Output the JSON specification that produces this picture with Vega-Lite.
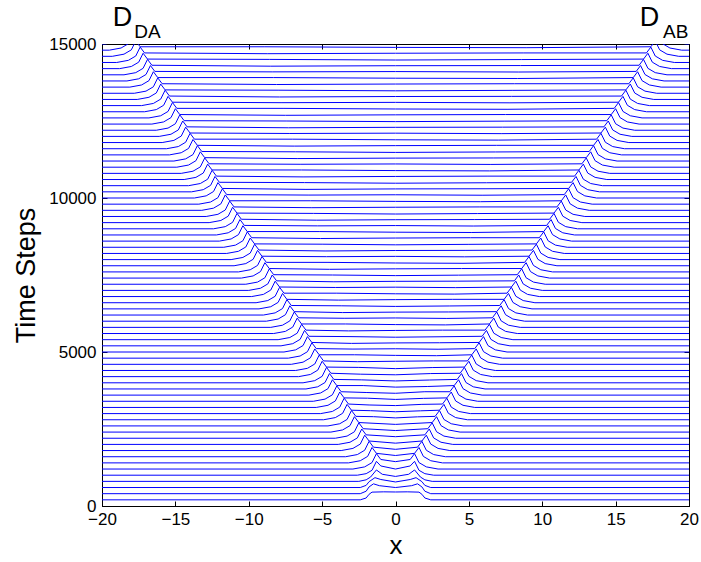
{
"$schema":"https://vega.github.io/schema/vega-lite/v6.json",
"width":587,"height":462,
"autosize":{"type":"none"},
"padding":{"left":102,"top":44,"right":12,"bottom":56},
"background":"white",
"config":{"view":{"stroke":"black","strokeWidth":1},"font":"Liberation Sans","axis":{"labelFont":"Liberation Sans","titleFont":"Liberation Sans","labelColor":"black","titleColor":"black","domainColor":"black","tickColor":"black","grid":false,"labelFlush":false,"labelOverlap":false,"titleFontWeight":"normal"}},
"datasets":{
"letters":[{"lab":"D","x":-18.6,"y":15600},{"lab":"D","x":17.3,"y":15600}],
"subs":[{"lab":"DA","x":-16.9,"y":15200},{"lab":"AB","x":19.1,"y":15200}],
"traces":[
{"t":0,"x":-20,"y":200},{"t":0,"x":-2.4,"y":200},{"t":0,"x":-2.0,"y":260},{"t":0,"x":-1.8,"y":380},{"t":0,"x":-1.6,"y":450},{"t":0,"x":-0.8,"y":460},{"t":0,"x":0,"y":455},{"t":0,"x":0.8,"y":460},{"t":0,"x":1.6,"y":450},{"t":0,"x":1.8,"y":380},{"t":0,"x":2.0,"y":260},{"t":0,"x":2.4,"y":200},{"t":0,"x":20,"y":200},
{"t":200,"x":-20,"y":400},{"t":200,"x":-2.4,"y":400},{"t":200,"x":-2.0,"y":480},{"t":200,"x":-1.8,"y":620},{"t":200,"x":-1.5,"y":720},{"t":200,"x":-1.1,"y":660},{"t":200,"x":0,"y":600},{"t":200,"x":1.1,"y":660},{"t":200,"x":1.5,"y":720},{"t":200,"x":1.8,"y":620},{"t":200,"x":2.0,"y":480},{"t":200,"x":2.4,"y":400},{"t":200,"x":20,"y":400},
{"t":400,"x":-20,"y":600},{"t":400,"x":-2.4,"y":600},{"t":400,"x":-2.0,"y":670},{"t":400,"x":-1.8,"y":790},{"t":400,"x":-1.4,"y":920},{"t":400,"x":-1.0,"y":860},{"t":400,"x":0,"y":780},{"t":400,"x":1.0,"y":860},{"t":400,"x":1.4,"y":920},{"t":400,"x":1.8,"y":790},{"t":400,"x":2.0,"y":670},{"t":400,"x":2.4,"y":600},{"t":400,"x":20,"y":600},
{"t":600,"x":-20,"y":800},{"t":600,"x":-2.5,"y":800},{"t":600,"x":-2.0,"y":850},{"t":600,"x":-1.7,"y":940},{"t":600,"x":-1.3,"y":1170},{"t":600,"x":-0.9,"y":1030},{"t":600,"x":0,"y":960},{"t":600,"x":0.9,"y":1030},{"t":600,"x":1.3,"y":1170},{"t":600,"x":1.7,"y":940},{"t":600,"x":2.0,"y":850},{"t":600,"x":2.5,"y":800},{"t":600,"x":20,"y":800},
{"t":800,"x":-20,"y":1000},{"t":800,"x":-2.6,"y":1000},{"t":800,"x":-2.0,"y":1050},{"t":800,"x":-1.6,"y":1160},{"t":800,"x":-1.3,"y":1450},{"t":800,"x":-1.0,"y":1300},{"t":800,"x":0,"y":1200},{"t":800,"x":1.0,"y":1300},{"t":800,"x":1.3,"y":1450},{"t":800,"x":1.6,"y":1160},{"t":800,"x":2.0,"y":1050},{"t":800,"x":2.6,"y":1000},{"t":800,"x":20,"y":1000},
{"t":1000,"x":-20,"y":1200},{"t":1000,"x":-2.9,"y":1200},{"t":1000,"x":-2.1,"y":1270},{"t":1000,"x":-1.6,"y":1410},{"t":1000,"x":-1.3,"y":1700},{"t":1000,"x":-1.0,"y":1510},{"t":1000,"x":0,"y":1440},{"t":1000,"x":1.0,"y":1510},{"t":1000,"x":1.3,"y":1700},{"t":1000,"x":1.6,"y":1410},{"t":1000,"x":2.1,"y":1270},{"t":1000,"x":2.9,"y":1200},{"t":1000,"x":20,"y":1200},
{"t":1200,"x":-20,"y":1400},{"t":1200,"x":-3.2,"y":1400},{"t":1200,"x":-2.4,"y":1470},{"t":1200,"x":-1.9,"y":1610},{"t":1200,"x":-1.6,"y":1900},{"t":1200,"x":-1.3,"y":1710},{"t":1200,"x":0,"y":1640},{"t":1200,"x":1.3,"y":1710},{"t":1200,"x":1.6,"y":1900},{"t":1200,"x":1.9,"y":1610},{"t":1200,"x":2.4,"y":1470},{"t":1200,"x":3.2,"y":1400},{"t":1200,"x":20,"y":1400},
{"t":1400,"x":-20,"y":1600},{"t":1400,"x":-3.4,"y":1600},{"t":1400,"x":-2.6,"y":1670},{"t":1400,"x":-2.1,"y":1810},{"t":1400,"x":-1.8,"y":2100},{"t":1400,"x":-1.5,"y":1910},{"t":1400,"x":0,"y":1840},{"t":1400,"x":1.5,"y":1910},{"t":1400,"x":1.8,"y":2100},{"t":1400,"x":2.1,"y":1810},{"t":1400,"x":2.6,"y":1670},{"t":1400,"x":3.4,"y":1600},{"t":1400,"x":20,"y":1600},
{"t":1600,"x":-20,"y":1800},{"t":1600,"x":-3.7,"y":1800},{"t":1600,"x":-2.9,"y":1870},{"t":1600,"x":-2.4,"y":2010},{"t":1600,"x":-2.1,"y":2300},{"t":1600,"x":-1.8,"y":2110},{"t":1600,"x":0,"y":2040},{"t":1600,"x":1.8,"y":2110},{"t":1600,"x":2.1,"y":2300},{"t":1600,"x":2.4,"y":2010},{"t":1600,"x":2.9,"y":1870},{"t":1600,"x":3.7,"y":1800},{"t":1600,"x":20,"y":1800},
{"t":1800,"x":-20,"y":2000},{"t":1800,"x":-3.9,"y":2000},{"t":1800,"x":-3.1,"y":2070},{"t":1800,"x":-2.6,"y":2210},{"t":1800,"x":-2.3,"y":2500},{"t":1800,"x":-2.0,"y":2310},{"t":1800,"x":0,"y":2250},{"t":1800,"x":2.0,"y":2310},{"t":1800,"x":2.3,"y":2500},{"t":1800,"x":2.6,"y":2210},{"t":1800,"x":3.1,"y":2070},{"t":1800,"x":3.9,"y":2000},{"t":1800,"x":20,"y":2000},
{"t":2000,"x":-20,"y":2200},{"t":2000,"x":-4.1,"y":2200},{"t":2000,"x":-3.3,"y":2270},{"t":2000,"x":-2.8,"y":2410},{"t":2000,"x":-2.5,"y":2700},{"t":2000,"x":-2.2,"y":2510},{"t":2000,"x":0,"y":2450},{"t":2000,"x":2.2,"y":2510},{"t":2000,"x":2.5,"y":2700},{"t":2000,"x":2.8,"y":2410},{"t":2000,"x":3.3,"y":2270},{"t":2000,"x":4.1,"y":2200},{"t":2000,"x":20,"y":2200},
{"t":2200,"x":-20,"y":2400},{"t":2200,"x":-4.4,"y":2400},{"t":2200,"x":-3.6,"y":2470},{"t":2200,"x":-3.1,"y":2610},{"t":2200,"x":-2.8,"y":2900},{"t":2200,"x":-2.5,"y":2710},{"t":2200,"x":0,"y":2650},{"t":2200,"x":2.5,"y":2710},{"t":2200,"x":2.8,"y":2900},{"t":2200,"x":3.1,"y":2610},{"t":2200,"x":3.6,"y":2470},{"t":2200,"x":4.4,"y":2400},{"t":2200,"x":20,"y":2400},
{"t":2400,"x":-20,"y":2600},{"t":2400,"x":-4.6,"y":2600},{"t":2400,"x":-3.8,"y":2670},{"t":2400,"x":-3.3,"y":2810},{"t":2400,"x":-3.0,"y":3100},{"t":2400,"x":-2.7,"y":2910},{"t":2400,"x":-1.5,"y":2900},{"t":2400,"x":0,"y":2860},{"t":2400,"x":1.5,"y":2895},{"t":2400,"x":2.7,"y":2910},{"t":2400,"x":3.0,"y":3100},{"t":2400,"x":3.3,"y":2810},{"t":2400,"x":3.8,"y":2670},{"t":2400,"x":4.6,"y":2600},{"t":2400,"x":20,"y":2600},
{"t":2600,"x":-20,"y":2800},{"t":2600,"x":-4.9,"y":2800},{"t":2600,"x":-4.1,"y":2870},{"t":2600,"x":-3.6,"y":3010},{"t":2600,"x":-3.3,"y":3300},{"t":2600,"x":-3.0,"y":3110},{"t":2600,"x":-1.7,"y":3095},{"t":2600,"x":0,"y":3060},{"t":2600,"x":1.7,"y":3090},{"t":2600,"x":3.0,"y":3110},{"t":2600,"x":3.3,"y":3300},{"t":2600,"x":3.6,"y":3010},{"t":2600,"x":4.1,"y":2870},{"t":2600,"x":4.9,"y":2800},{"t":2600,"x":20,"y":2800},
{"t":2800,"x":-20,"y":3000},{"t":2800,"x":-5.1,"y":3000},{"t":2800,"x":-4.3,"y":3070},{"t":2800,"x":-3.8,"y":3210},{"t":2800,"x":-3.5,"y":3500},{"t":2800,"x":-3.2,"y":3310},{"t":2800,"x":-1.8,"y":3280},{"t":2800,"x":0,"y":3260},{"t":2800,"x":1.8,"y":3300},{"t":2800,"x":3.2,"y":3310},{"t":2800,"x":3.5,"y":3500},{"t":2800,"x":3.8,"y":3210},{"t":2800,"x":4.3,"y":3070},{"t":2800,"x":5.1,"y":3000},{"t":2800,"x":20,"y":3000},
{"t":3000,"x":-20,"y":3200},{"t":3000,"x":-5.4,"y":3200},{"t":3000,"x":-4.6,"y":3270},{"t":3000,"x":-4.1,"y":3410},{"t":3000,"x":-3.8,"y":3700},{"t":3000,"x":-3.5,"y":3510},{"t":3000,"x":-1.9,"y":3500},{"t":3000,"x":0,"y":3460},{"t":3000,"x":1.9,"y":3495},{"t":3000,"x":3.5,"y":3510},{"t":3000,"x":3.8,"y":3700},{"t":3000,"x":4.1,"y":3410},{"t":3000,"x":4.6,"y":3270},{"t":3000,"x":5.4,"y":3200},{"t":3000,"x":20,"y":3200},
{"t":3200,"x":-20,"y":3400},{"t":3200,"x":-5.6,"y":3400},{"t":3200,"x":-4.8,"y":3470},{"t":3200,"x":-4.3,"y":3610},{"t":3200,"x":-4.0,"y":3900},{"t":3200,"x":-3.7,"y":3710},{"t":3200,"x":-2.0,"y":3685},{"t":3200,"x":0,"y":3660},{"t":3200,"x":2.0,"y":3710},{"t":3200,"x":3.7,"y":3710},{"t":3200,"x":4.0,"y":3900},{"t":3200,"x":4.3,"y":3610},{"t":3200,"x":4.8,"y":3470},{"t":3200,"x":5.6,"y":3400},{"t":3200,"x":20,"y":3400},
{"t":3400,"x":-20,"y":3600},{"t":3400,"x":-5.9,"y":3600},{"t":3400,"x":-5.1,"y":3670},{"t":3400,"x":-4.6,"y":3810},{"t":3400,"x":-4.3,"y":4100},{"t":3400,"x":-4.0,"y":3910},{"t":3400,"x":-2.2,"y":3910},{"t":3400,"x":0,"y":3860},{"t":3400,"x":2.2,"y":3880},{"t":3400,"x":4.0,"y":3910},{"t":3400,"x":4.3,"y":4100},{"t":3400,"x":4.6,"y":3810},{"t":3400,"x":5.1,"y":3670},{"t":3400,"x":5.9,"y":3600},{"t":3400,"x":20,"y":3600},
{"t":3600,"x":-20,"y":3800},{"t":3600,"x":-6.1,"y":3800},{"t":3600,"x":-5.3,"y":3870},{"t":3600,"x":-4.8,"y":4010},{"t":3600,"x":-4.5,"y":4300},{"t":3600,"x":-4.2,"y":4110},{"t":3600,"x":-2.3,"y":4095},{"t":3600,"x":0,"y":4060},{"t":3600,"x":2.3,"y":4090},{"t":3600,"x":4.2,"y":4110},{"t":3600,"x":4.5,"y":4300},{"t":3600,"x":4.8,"y":4010},{"t":3600,"x":5.3,"y":3870},{"t":3600,"x":6.1,"y":3800},{"t":3600,"x":20,"y":3800},
{"t":3800,"x":-20,"y":4000},{"t":3800,"x":-6.3,"y":4000},{"t":3800,"x":-5.5,"y":4070},{"t":3800,"x":-5.0,"y":4210},{"t":3800,"x":-4.7,"y":4500},{"t":3800,"x":-4.4,"y":4310},{"t":3800,"x":-2.4,"y":4280},{"t":3800,"x":0,"y":4260},{"t":3800,"x":2.4,"y":4300},{"t":3800,"x":4.4,"y":4310},{"t":3800,"x":4.7,"y":4500},{"t":3800,"x":5.0,"y":4210},{"t":3800,"x":5.5,"y":4070},{"t":3800,"x":6.3,"y":4000},{"t":3800,"x":20,"y":4000},
{"t":4000,"x":-20,"y":4200},{"t":4000,"x":-6.6,"y":4200},{"t":4000,"x":-5.8,"y":4270},{"t":4000,"x":-5.3,"y":4410},{"t":4000,"x":-5.0,"y":4700},{"t":4000,"x":-4.7,"y":4510},{"t":4000,"x":-2.5,"y":4500},{"t":4000,"x":0,"y":4460},{"t":4000,"x":2.5,"y":4495},{"t":4000,"x":4.7,"y":4510},{"t":4000,"x":5.0,"y":4700},{"t":4000,"x":5.3,"y":4410},{"t":4000,"x":5.8,"y":4270},{"t":4000,"x":6.6,"y":4200},{"t":4000,"x":20,"y":4200},
{"t":4200,"x":-20,"y":4400},{"t":4200,"x":-6.8,"y":4400},{"t":4200,"x":-6.0,"y":4470},{"t":4200,"x":-5.5,"y":4610},{"t":4200,"x":-5.2,"y":4900},{"t":4200,"x":-4.9,"y":4710},{"t":4200,"x":-2.6,"y":4685},{"t":4200,"x":0,"y":4700},{"t":4200,"x":2.6,"y":4710},{"t":4200,"x":4.9,"y":4710},{"t":4200,"x":5.2,"y":4900},{"t":4200,"x":5.5,"y":4610},{"t":4200,"x":6.0,"y":4470},{"t":4200,"x":6.8,"y":4400},{"t":4200,"x":20,"y":4400},
{"t":4400,"x":-20,"y":4600},{"t":4400,"x":-7.1,"y":4600},{"t":4400,"x":-6.3,"y":4670},{"t":4400,"x":-5.8,"y":4810},{"t":4400,"x":-5.5,"y":5100},{"t":4400,"x":-5.2,"y":4910},{"t":4400,"x":-2.8,"y":4910},{"t":4400,"x":0,"y":4890},{"t":4400,"x":2.8,"y":4880},{"t":4400,"x":5.2,"y":4910},{"t":4400,"x":5.5,"y":5100},{"t":4400,"x":5.8,"y":4810},{"t":4400,"x":6.3,"y":4670},{"t":4400,"x":7.1,"y":4600},{"t":4400,"x":20,"y":4600},
{"t":4600,"x":-20,"y":4800},{"t":4600,"x":-7.3,"y":4800},{"t":4600,"x":-6.5,"y":4870},{"t":4600,"x":-6.0,"y":5010},{"t":4600,"x":-5.7,"y":5300},{"t":4600,"x":-5.4,"y":5110},{"t":4600,"x":-2.9,"y":5095},{"t":4600,"x":0,"y":5105},{"t":4600,"x":2.9,"y":5090},{"t":4600,"x":5.4,"y":5110},{"t":4600,"x":5.7,"y":5300},{"t":4600,"x":6.0,"y":5010},{"t":4600,"x":6.5,"y":4870},{"t":4600,"x":7.3,"y":4800},{"t":4600,"x":20,"y":4800},
{"t":4800,"x":-20,"y":5000},{"t":4800,"x":-7.6,"y":5000},{"t":4800,"x":-6.8,"y":5070},{"t":4800,"x":-6.3,"y":5210},{"t":4800,"x":-6.0,"y":5500},{"t":4800,"x":-5.7,"y":5310},{"t":4800,"x":-3.0,"y":5280},{"t":4800,"x":0,"y":5295},{"t":4800,"x":3.0,"y":5300},{"t":4800,"x":5.7,"y":5310},{"t":4800,"x":6.0,"y":5500},{"t":4800,"x":6.3,"y":5210},{"t":4800,"x":6.8,"y":5070},{"t":4800,"x":7.6,"y":5000},{"t":4800,"x":20,"y":5000},
{"t":5000,"x":-20,"y":5200},{"t":5000,"x":-7.8,"y":5200},{"t":5000,"x":-7.0,"y":5270},{"t":5000,"x":-6.5,"y":5410},{"t":5000,"x":-6.2,"y":5700},{"t":5000,"x":-5.9,"y":5510},{"t":5000,"x":-3.1,"y":5500},{"t":5000,"x":0,"y":5480},{"t":5000,"x":3.1,"y":5495},{"t":5000,"x":5.9,"y":5510},{"t":5000,"x":6.2,"y":5700},{"t":5000,"x":6.5,"y":5410},{"t":5000,"x":7.0,"y":5270},{"t":5000,"x":7.8,"y":5200},{"t":5000,"x":20,"y":5200},
{"t":5200,"x":-20,"y":5400},{"t":5200,"x":-8.0,"y":5400},{"t":5200,"x":-7.2,"y":5470},{"t":5200,"x":-6.7,"y":5610},{"t":5200,"x":-6.4,"y":5900},{"t":5200,"x":-6.1,"y":5710},{"t":5200,"x":-3.2,"y":5685},{"t":5200,"x":0,"y":5700},{"t":5200,"x":3.2,"y":5710},{"t":5200,"x":6.1,"y":5710},{"t":5200,"x":6.4,"y":5900},{"t":5200,"x":6.7,"y":5610},{"t":5200,"x":7.2,"y":5470},{"t":5200,"x":8.0,"y":5400},{"t":5200,"x":20,"y":5400},
{"t":5400,"x":-20,"y":5600},{"t":5400,"x":-8.3,"y":5600},{"t":5400,"x":-7.5,"y":5670},{"t":5400,"x":-7.0,"y":5810},{"t":5400,"x":-6.7,"y":6100},{"t":5400,"x":-6.4,"y":5910},{"t":5400,"x":-3.4,"y":5910},{"t":5400,"x":0,"y":5890},{"t":5400,"x":3.4,"y":5880},{"t":5400,"x":6.4,"y":5910},{"t":5400,"x":6.7,"y":6100},{"t":5400,"x":7.0,"y":5810},{"t":5400,"x":7.5,"y":5670},{"t":5400,"x":8.3,"y":5600},{"t":5400,"x":20,"y":5600},
{"t":5600,"x":-20,"y":5800},{"t":5600,"x":-8.5,"y":5800},{"t":5600,"x":-7.7,"y":5870},{"t":5600,"x":-7.2,"y":6010},{"t":5600,"x":-6.9,"y":6300},{"t":5600,"x":-6.6,"y":6110},{"t":5600,"x":-3.5,"y":6095},{"t":5600,"x":0,"y":6105},{"t":5600,"x":3.5,"y":6090},{"t":5600,"x":6.6,"y":6110},{"t":5600,"x":6.9,"y":6300},{"t":5600,"x":7.2,"y":6010},{"t":5600,"x":7.7,"y":5870},{"t":5600,"x":8.5,"y":5800},{"t":5600,"x":20,"y":5800},
{"t":5800,"x":-20,"y":6000},{"t":5800,"x":-8.8,"y":6000},{"t":5800,"x":-8.0,"y":6070},{"t":5800,"x":-7.5,"y":6210},{"t":5800,"x":-7.2,"y":6500},{"t":5800,"x":-6.9,"y":6310},{"t":5800,"x":-3.6,"y":6280},{"t":5800,"x":0,"y":6295},{"t":5800,"x":3.6,"y":6300},{"t":5800,"x":6.9,"y":6310},{"t":5800,"x":7.2,"y":6500},{"t":5800,"x":7.5,"y":6210},{"t":5800,"x":8.0,"y":6070},{"t":5800,"x":8.8,"y":6000},{"t":5800,"x":20,"y":6000},
{"t":6000,"x":-20,"y":6200},{"t":6000,"x":-9.0,"y":6200},{"t":6000,"x":-8.2,"y":6270},{"t":6000,"x":-7.7,"y":6410},{"t":6000,"x":-7.4,"y":6700},{"t":6000,"x":-7.1,"y":6510},{"t":6000,"x":-3.7,"y":6500},{"t":6000,"x":0,"y":6480},{"t":6000,"x":3.7,"y":6495},{"t":6000,"x":7.1,"y":6510},{"t":6000,"x":7.4,"y":6700},{"t":6000,"x":7.7,"y":6410},{"t":6000,"x":8.2,"y":6270},{"t":6000,"x":9.0,"y":6200},{"t":6000,"x":20,"y":6200},
{"t":6200,"x":-20,"y":6400},{"t":6200,"x":-9.3,"y":6400},{"t":6200,"x":-8.5,"y":6470},{"t":6200,"x":-8.0,"y":6610},{"t":6200,"x":-7.7,"y":6900},{"t":6200,"x":-7.4,"y":6710},{"t":6200,"x":-3.9,"y":6685},{"t":6200,"x":0,"y":6700},{"t":6200,"x":3.9,"y":6710},{"t":6200,"x":7.4,"y":6710},{"t":6200,"x":7.7,"y":6900},{"t":6200,"x":8.0,"y":6610},{"t":6200,"x":8.5,"y":6470},{"t":6200,"x":9.3,"y":6400},{"t":6200,"x":20,"y":6400},
{"t":6400,"x":-20,"y":6600},{"t":6400,"x":-9.5,"y":6600},{"t":6400,"x":-8.7,"y":6670},{"t":6400,"x":-8.2,"y":6810},{"t":6400,"x":-7.9,"y":7100},{"t":6400,"x":-7.6,"y":6910},{"t":6400,"x":-4.0,"y":6910},{"t":6400,"x":0,"y":6890},{"t":6400,"x":4.0,"y":6880},{"t":6400,"x":7.6,"y":6910},{"t":6400,"x":7.9,"y":7100},{"t":6400,"x":8.2,"y":6810},{"t":6400,"x":8.7,"y":6670},{"t":6400,"x":9.5,"y":6600},{"t":6400,"x":20,"y":6600},
{"t":6600,"x":-20,"y":6800},{"t":6600,"x":-9.8,"y":6800},{"t":6600,"x":-9.0,"y":6870},{"t":6600,"x":-8.5,"y":7010},{"t":6600,"x":-8.2,"y":7300},{"t":6600,"x":-7.9,"y":7110},{"t":6600,"x":-4.1,"y":7095},{"t":6600,"x":0,"y":7105},{"t":6600,"x":4.1,"y":7090},{"t":6600,"x":7.9,"y":7110},{"t":6600,"x":8.2,"y":7300},{"t":6600,"x":8.5,"y":7010},{"t":6600,"x":9.0,"y":6870},{"t":6600,"x":9.8,"y":6800},{"t":6600,"x":20,"y":6800},
{"t":6800,"x":-20,"y":7000},{"t":6800,"x":-10.0,"y":7000},{"t":6800,"x":-9.2,"y":7070},{"t":6800,"x":-8.7,"y":7210},{"t":6800,"x":-8.4,"y":7500},{"t":6800,"x":-8.1,"y":7310},{"t":6800,"x":-4.2,"y":7280},{"t":6800,"x":0,"y":7295},{"t":6800,"x":4.2,"y":7300},{"t":6800,"x":8.1,"y":7310},{"t":6800,"x":8.4,"y":7500},{"t":6800,"x":8.7,"y":7210},{"t":6800,"x":9.2,"y":7070},{"t":6800,"x":10.0,"y":7000},{"t":6800,"x":20,"y":7000},
{"t":7000,"x":-20,"y":7200},{"t":7000,"x":-10.2,"y":7200},{"t":7000,"x":-9.4,"y":7270},{"t":7000,"x":-8.9,"y":7410},{"t":7000,"x":-8.6,"y":7700},{"t":7000,"x":-8.3,"y":7510},{"t":7000,"x":-4.3,"y":7500},{"t":7000,"x":0,"y":7480},{"t":7000,"x":4.3,"y":7495},{"t":7000,"x":8.3,"y":7510},{"t":7000,"x":8.6,"y":7700},{"t":7000,"x":8.9,"y":7410},{"t":7000,"x":9.4,"y":7270},{"t":7000,"x":10.2,"y":7200},{"t":7000,"x":20,"y":7200},
{"t":7200,"x":-20,"y":7400},{"t":7200,"x":-10.5,"y":7400},{"t":7200,"x":-9.7,"y":7470},{"t":7200,"x":-9.2,"y":7610},{"t":7200,"x":-8.9,"y":7900},{"t":7200,"x":-8.6,"y":7710},{"t":7200,"x":-4.5,"y":7685},{"t":7200,"x":0,"y":7700},{"t":7200,"x":4.5,"y":7710},{"t":7200,"x":8.6,"y":7710},{"t":7200,"x":8.9,"y":7900},{"t":7200,"x":9.2,"y":7610},{"t":7200,"x":9.7,"y":7470},{"t":7200,"x":10.5,"y":7400},{"t":7200,"x":20,"y":7400},
{"t":7400,"x":-20,"y":7600},{"t":7400,"x":-10.7,"y":7600},{"t":7400,"x":-9.9,"y":7670},{"t":7400,"x":-9.4,"y":7810},{"t":7400,"x":-9.1,"y":8100},{"t":7400,"x":-8.8,"y":7910},{"t":7400,"x":-4.6,"y":7910},{"t":7400,"x":0,"y":7890},{"t":7400,"x":4.6,"y":7880},{"t":7400,"x":8.8,"y":7910},{"t":7400,"x":9.1,"y":8100},{"t":7400,"x":9.4,"y":7810},{"t":7400,"x":9.9,"y":7670},{"t":7400,"x":10.7,"y":7600},{"t":7400,"x":20,"y":7600},
{"t":7600,"x":-20,"y":7800},{"t":7600,"x":-11.0,"y":7800},{"t":7600,"x":-10.2,"y":7870},{"t":7600,"x":-9.7,"y":8010},{"t":7600,"x":-9.4,"y":8300},{"t":7600,"x":-9.1,"y":8110},{"t":7600,"x":-4.7,"y":8095},{"t":7600,"x":0,"y":8105},{"t":7600,"x":4.7,"y":8090},{"t":7600,"x":9.1,"y":8110},{"t":7600,"x":9.4,"y":8300},{"t":7600,"x":9.7,"y":8010},{"t":7600,"x":10.2,"y":7870},{"t":7600,"x":11.0,"y":7800},{"t":7600,"x":20,"y":7800},
{"t":7800,"x":-20,"y":8000},{"t":7800,"x":-11.2,"y":8000},{"t":7800,"x":-10.4,"y":8070},{"t":7800,"x":-9.9,"y":8210},{"t":7800,"x":-9.6,"y":8500},{"t":7800,"x":-9.3,"y":8310},{"t":7800,"x":-4.8,"y":8280},{"t":7800,"x":0,"y":8295},{"t":7800,"x":4.8,"y":8300},{"t":7800,"x":9.3,"y":8310},{"t":7800,"x":9.6,"y":8500},{"t":7800,"x":9.9,"y":8210},{"t":7800,"x":10.4,"y":8070},{"t":7800,"x":11.2,"y":8000},{"t":7800,"x":20,"y":8000},
{"t":8000,"x":-20,"y":8200},{"t":8000,"x":-11.5,"y":8200},{"t":8000,"x":-10.7,"y":8270},{"t":8000,"x":-10.2,"y":8410},{"t":8000,"x":-9.9,"y":8700},{"t":8000,"x":-9.6,"y":8510},{"t":8000,"x":-5.0,"y":8500},{"t":8000,"x":0,"y":8480},{"t":8000,"x":5.0,"y":8495},{"t":8000,"x":9.6,"y":8510},{"t":8000,"x":9.9,"y":8700},{"t":8000,"x":10.2,"y":8410},{"t":8000,"x":10.7,"y":8270},{"t":8000,"x":11.5,"y":8200},{"t":8000,"x":20,"y":8200},
{"t":8200,"x":-20,"y":8400},{"t":8200,"x":-11.7,"y":8400},{"t":8200,"x":-10.9,"y":8470},{"t":8200,"x":-10.4,"y":8610},{"t":8200,"x":-10.1,"y":8900},{"t":8200,"x":-9.8,"y":8710},{"t":8200,"x":-5.1,"y":8685},{"t":8200,"x":0,"y":8700},{"t":8200,"x":5.1,"y":8710},{"t":8200,"x":9.8,"y":8710},{"t":8200,"x":10.1,"y":8900},{"t":8200,"x":10.4,"y":8610},{"t":8200,"x":10.9,"y":8470},{"t":8200,"x":11.7,"y":8400},{"t":8200,"x":20,"y":8400},
{"t":8400,"x":-20,"y":8600},{"t":8400,"x":-12.0,"y":8600},{"t":8400,"x":-11.2,"y":8670},{"t":8400,"x":-10.7,"y":8810},{"t":8400,"x":-10.4,"y":9100},{"t":8400,"x":-10.1,"y":8910},{"t":8400,"x":-5.2,"y":8910},{"t":8400,"x":0,"y":8890},{"t":8400,"x":5.2,"y":8880},{"t":8400,"x":10.1,"y":8910},{"t":8400,"x":10.4,"y":9100},{"t":8400,"x":10.7,"y":8810},{"t":8400,"x":11.2,"y":8670},{"t":8400,"x":12.0,"y":8600},{"t":8400,"x":20,"y":8600},
{"t":8600,"x":-20,"y":8800},{"t":8600,"x":-12.2,"y":8800},{"t":8600,"x":-11.4,"y":8870},{"t":8600,"x":-10.9,"y":9010},{"t":8600,"x":-10.6,"y":9300},{"t":8600,"x":-10.3,"y":9110},{"t":8600,"x":-5.3,"y":9095},{"t":8600,"x":0,"y":9105},{"t":8600,"x":5.3,"y":9090},{"t":8600,"x":10.3,"y":9110},{"t":8600,"x":10.6,"y":9300},{"t":8600,"x":10.9,"y":9010},{"t":8600,"x":11.4,"y":8870},{"t":8600,"x":12.2,"y":8800},{"t":8600,"x":20,"y":8800},
{"t":8800,"x":-20,"y":9000},{"t":8800,"x":-12.4,"y":9000},{"t":8800,"x":-11.6,"y":9070},{"t":8800,"x":-11.1,"y":9210},{"t":8800,"x":-10.8,"y":9500},{"t":8800,"x":-10.5,"y":9310},{"t":8800,"x":-5.4,"y":9280},{"t":8800,"x":0,"y":9295},{"t":8800,"x":5.4,"y":9300},{"t":8800,"x":10.5,"y":9310},{"t":8800,"x":10.8,"y":9500},{"t":8800,"x":11.1,"y":9210},{"t":8800,"x":11.6,"y":9070},{"t":8800,"x":12.4,"y":9000},{"t":8800,"x":20,"y":9000},
{"t":9000,"x":-20,"y":9200},{"t":9000,"x":-12.7,"y":9200},{"t":9000,"x":-11.9,"y":9270},{"t":9000,"x":-11.4,"y":9410},{"t":9000,"x":-11.1,"y":9700},{"t":9000,"x":-10.8,"y":9510},{"t":9000,"x":-5.6,"y":9500},{"t":9000,"x":0,"y":9480},{"t":9000,"x":5.6,"y":9495},{"t":9000,"x":10.8,"y":9510},{"t":9000,"x":11.1,"y":9700},{"t":9000,"x":11.4,"y":9410},{"t":9000,"x":11.9,"y":9270},{"t":9000,"x":12.7,"y":9200},{"t":9000,"x":20,"y":9200},
{"t":9200,"x":-20,"y":9400},{"t":9200,"x":-12.9,"y":9400},{"t":9200,"x":-12.1,"y":9470},{"t":9200,"x":-11.6,"y":9610},{"t":9200,"x":-11.3,"y":9900},{"t":9200,"x":-11.0,"y":9710},{"t":9200,"x":-5.7,"y":9685},{"t":9200,"x":0,"y":9700},{"t":9200,"x":5.7,"y":9710},{"t":9200,"x":11.0,"y":9710},{"t":9200,"x":11.3,"y":9900},{"t":9200,"x":11.6,"y":9610},{"t":9200,"x":12.1,"y":9470},{"t":9200,"x":12.9,"y":9400},{"t":9200,"x":20,"y":9400},
{"t":9400,"x":-20,"y":9600},{"t":9400,"x":-13.2,"y":9600},{"t":9400,"x":-12.4,"y":9670},{"t":9400,"x":-11.9,"y":9810},{"t":9400,"x":-11.6,"y":10100},{"t":9400,"x":-11.3,"y":9910},{"t":9400,"x":-5.8,"y":9910},{"t":9400,"x":0,"y":9890},{"t":9400,"x":5.8,"y":9880},{"t":9400,"x":11.3,"y":9910},{"t":9400,"x":11.6,"y":10100},{"t":9400,"x":11.9,"y":9810},{"t":9400,"x":12.4,"y":9670},{"t":9400,"x":13.2,"y":9600},{"t":9400,"x":20,"y":9600},
{"t":9600,"x":-20,"y":9800},{"t":9600,"x":-13.4,"y":9800},{"t":9600,"x":-12.6,"y":9870},{"t":9600,"x":-12.1,"y":10010},{"t":9600,"x":-11.8,"y":10300},{"t":9600,"x":-11.5,"y":10110},{"t":9600,"x":-5.9,"y":10095},{"t":9600,"x":0,"y":10105},{"t":9600,"x":5.9,"y":10090},{"t":9600,"x":11.5,"y":10110},{"t":9600,"x":11.8,"y":10300},{"t":9600,"x":12.1,"y":10010},{"t":9600,"x":12.6,"y":9870},{"t":9600,"x":13.4,"y":9800},{"t":9600,"x":20,"y":9800},
{"t":9800,"x":-20,"y":10000},{"t":9800,"x":-13.7,"y":10000},{"t":9800,"x":-12.9,"y":10070},{"t":9800,"x":-12.4,"y":10210},{"t":9800,"x":-12.1,"y":10500},{"t":9800,"x":-11.8,"y":10310},{"t":9800,"x":-6.1,"y":10280},{"t":9800,"x":0,"y":10295},{"t":9800,"x":6.1,"y":10300},{"t":9800,"x":11.8,"y":10310},{"t":9800,"x":12.1,"y":10500},{"t":9800,"x":12.4,"y":10210},{"t":9800,"x":12.9,"y":10070},{"t":9800,"x":13.7,"y":10000},{"t":9800,"x":20,"y":10000},
{"t":10000,"x":-20,"y":10200},{"t":10000,"x":-13.9,"y":10200},{"t":10000,"x":-13.1,"y":10270},{"t":10000,"x":-12.6,"y":10410},{"t":10000,"x":-12.3,"y":10700},{"t":10000,"x":-12.0,"y":10510},{"t":10000,"x":-6.2,"y":10500},{"t":10000,"x":0,"y":10480},{"t":10000,"x":6.2,"y":10495},{"t":10000,"x":12.0,"y":10510},{"t":10000,"x":12.3,"y":10700},{"t":10000,"x":12.6,"y":10410},{"t":10000,"x":13.1,"y":10270},{"t":10000,"x":13.9,"y":10200},{"t":10000,"x":20,"y":10200},
{"t":10200,"x":-20,"y":10400},{"t":10200,"x":-14.1,"y":10400},{"t":10200,"x":-13.3,"y":10470},{"t":10200,"x":-12.8,"y":10610},{"t":10200,"x":-12.5,"y":10900},{"t":10200,"x":-12.2,"y":10710},{"t":10200,"x":-6.3,"y":10685},{"t":10200,"x":0,"y":10700},{"t":10200,"x":6.3,"y":10710},{"t":10200,"x":12.2,"y":10710},{"t":10200,"x":12.5,"y":10900},{"t":10200,"x":12.8,"y":10610},{"t":10200,"x":13.3,"y":10470},{"t":10200,"x":14.1,"y":10400},{"t":10200,"x":20,"y":10400},
{"t":10400,"x":-20,"y":10600},{"t":10400,"x":-14.4,"y":10600},{"t":10400,"x":-13.6,"y":10670},{"t":10400,"x":-13.1,"y":10810},{"t":10400,"x":-12.8,"y":11100},{"t":10400,"x":-12.5,"y":10910},{"t":10400,"x":-6.4,"y":10910},{"t":10400,"x":0,"y":10890},{"t":10400,"x":6.4,"y":10880},{"t":10400,"x":12.5,"y":10910},{"t":10400,"x":12.8,"y":11100},{"t":10400,"x":13.1,"y":10810},{"t":10400,"x":13.6,"y":10670},{"t":10400,"x":14.4,"y":10600},{"t":10400,"x":20,"y":10600},
{"t":10600,"x":-20,"y":10800},{"t":10600,"x":-14.6,"y":10800},{"t":10600,"x":-13.8,"y":10870},{"t":10600,"x":-13.3,"y":11010},{"t":10600,"x":-13.0,"y":11300},{"t":10600,"x":-12.7,"y":11110},{"t":10600,"x":-6.5,"y":11095},{"t":10600,"x":0,"y":11105},{"t":10600,"x":6.5,"y":11090},{"t":10600,"x":12.7,"y":11110},{"t":10600,"x":13.0,"y":11300},{"t":10600,"x":13.3,"y":11010},{"t":10600,"x":13.8,"y":10870},{"t":10600,"x":14.6,"y":10800},{"t":10600,"x":20,"y":10800},
{"t":10800,"x":-20,"y":11000},{"t":10800,"x":-14.9,"y":11000},{"t":10800,"x":-14.1,"y":11070},{"t":10800,"x":-13.6,"y":11210},{"t":10800,"x":-13.3,"y":11500},{"t":10800,"x":-13.0,"y":11310},{"t":10800,"x":-6.7,"y":11280},{"t":10800,"x":0,"y":11295},{"t":10800,"x":6.7,"y":11300},{"t":10800,"x":13.0,"y":11310},{"t":10800,"x":13.3,"y":11500},{"t":10800,"x":13.6,"y":11210},{"t":10800,"x":14.1,"y":11070},{"t":10800,"x":14.9,"y":11000},{"t":10800,"x":20,"y":11000},
{"t":11000,"x":-20,"y":11200},{"t":11000,"x":-15.1,"y":11200},{"t":11000,"x":-14.3,"y":11270},{"t":11000,"x":-13.8,"y":11410},{"t":11000,"x":-13.5,"y":11700},{"t":11000,"x":-13.2,"y":11510},{"t":11000,"x":-6.8,"y":11500},{"t":11000,"x":0,"y":11480},{"t":11000,"x":6.8,"y":11495},{"t":11000,"x":13.2,"y":11510},{"t":11000,"x":13.5,"y":11700},{"t":11000,"x":13.8,"y":11410},{"t":11000,"x":14.3,"y":11270},{"t":11000,"x":15.1,"y":11200},{"t":11000,"x":20,"y":11200},
{"t":11200,"x":-20,"y":11400},{"t":11200,"x":-15.4,"y":11400},{"t":11200,"x":-14.6,"y":11470},{"t":11200,"x":-14.1,"y":11610},{"t":11200,"x":-13.8,"y":11900},{"t":11200,"x":-13.5,"y":11710},{"t":11200,"x":-6.9,"y":11685},{"t":11200,"x":0,"y":11700},{"t":11200,"x":6.9,"y":11710},{"t":11200,"x":13.5,"y":11710},{"t":11200,"x":13.8,"y":11900},{"t":11200,"x":14.1,"y":11610},{"t":11200,"x":14.6,"y":11470},{"t":11200,"x":15.4,"y":11400},{"t":11200,"x":20,"y":11400},
{"t":11400,"x":-20,"y":11600},{"t":11400,"x":-15.6,"y":11600},{"t":11400,"x":-14.8,"y":11670},{"t":11400,"x":-14.3,"y":11810},{"t":11400,"x":-14.0,"y":12100},{"t":11400,"x":-13.7,"y":11910},{"t":11400,"x":-7.0,"y":11910},{"t":11400,"x":0,"y":11890},{"t":11400,"x":7.0,"y":11880},{"t":11400,"x":13.7,"y":11910},{"t":11400,"x":14.0,"y":12100},{"t":11400,"x":14.3,"y":11810},{"t":11400,"x":14.8,"y":11670},{"t":11400,"x":15.6,"y":11600},{"t":11400,"x":20,"y":11600},
{"t":11600,"x":-20,"y":11800},{"t":11600,"x":-15.9,"y":11800},{"t":11600,"x":-15.1,"y":11870},{"t":11600,"x":-14.6,"y":12010},{"t":11600,"x":-14.3,"y":12300},{"t":11600,"x":-14.0,"y":12110},{"t":11600,"x":-7.2,"y":12095},{"t":11600,"x":0,"y":12105},{"t":11600,"x":7.2,"y":12090},{"t":11600,"x":14.0,"y":12110},{"t":11600,"x":14.3,"y":12300},{"t":11600,"x":14.6,"y":12010},{"t":11600,"x":15.1,"y":11870},{"t":11600,"x":15.9,"y":11800},{"t":11600,"x":20,"y":11800},
{"t":11800,"x":-20,"y":12000},{"t":11800,"x":-16.1,"y":12000},{"t":11800,"x":-15.3,"y":12070},{"t":11800,"x":-14.8,"y":12210},{"t":11800,"x":-14.5,"y":12500},{"t":11800,"x":-14.2,"y":12310},{"t":11800,"x":-7.3,"y":12280},{"t":11800,"x":0,"y":12295},{"t":11800,"x":7.3,"y":12300},{"t":11800,"x":14.2,"y":12310},{"t":11800,"x":14.5,"y":12500},{"t":11800,"x":14.8,"y":12210},{"t":11800,"x":15.3,"y":12070},{"t":11800,"x":16.1,"y":12000},{"t":11800,"x":20,"y":12000},
{"t":12000,"x":-20,"y":12200},{"t":12000,"x":-16.3,"y":12200},{"t":12000,"x":-15.5,"y":12270},{"t":12000,"x":-15.0,"y":12410},{"t":12000,"x":-14.7,"y":12700},{"t":12000,"x":-14.4,"y":12510},{"t":12000,"x":-7.4,"y":12500},{"t":12000,"x":0,"y":12480},{"t":12000,"x":7.4,"y":12495},{"t":12000,"x":14.4,"y":12510},{"t":12000,"x":14.7,"y":12700},{"t":12000,"x":15.0,"y":12410},{"t":12000,"x":15.5,"y":12270},{"t":12000,"x":16.3,"y":12200},{"t":12000,"x":20,"y":12200},
{"t":12200,"x":-20,"y":12400},{"t":12200,"x":-16.6,"y":12400},{"t":12200,"x":-15.8,"y":12470},{"t":12200,"x":-15.3,"y":12610},{"t":12200,"x":-15.0,"y":12900},{"t":12200,"x":-14.7,"y":12710},{"t":12200,"x":-7.5,"y":12685},{"t":12200,"x":0,"y":12700},{"t":12200,"x":7.5,"y":12710},{"t":12200,"x":14.7,"y":12710},{"t":12200,"x":15.0,"y":12900},{"t":12200,"x":15.3,"y":12610},{"t":12200,"x":15.8,"y":12470},{"t":12200,"x":16.6,"y":12400},{"t":12200,"x":20,"y":12400},
{"t":12400,"x":-20,"y":12600},{"t":12400,"x":-16.8,"y":12600},{"t":12400,"x":-16.0,"y":12670},{"t":12400,"x":-15.5,"y":12810},{"t":12400,"x":-15.2,"y":13100},{"t":12400,"x":-14.9,"y":12910},{"t":12400,"x":-7.6,"y":12910},{"t":12400,"x":0,"y":12890},{"t":12400,"x":7.6,"y":12880},{"t":12400,"x":14.9,"y":12910},{"t":12400,"x":15.2,"y":13100},{"t":12400,"x":15.5,"y":12810},{"t":12400,"x":16.0,"y":12670},{"t":12400,"x":16.8,"y":12600},{"t":12400,"x":20,"y":12600},
{"t":12600,"x":-20,"y":12800},{"t":12600,"x":-17.1,"y":12800},{"t":12600,"x":-16.3,"y":12870},{"t":12600,"x":-15.8,"y":13010},{"t":12600,"x":-15.5,"y":13300},{"t":12600,"x":-15.2,"y":13110},{"t":12600,"x":-7.8,"y":13095},{"t":12600,"x":0,"y":13105},{"t":12600,"x":7.8,"y":13090},{"t":12600,"x":15.2,"y":13110},{"t":12600,"x":15.5,"y":13300},{"t":12600,"x":15.8,"y":13010},{"t":12600,"x":16.3,"y":12870},{"t":12600,"x":17.1,"y":12800},{"t":12600,"x":20,"y":12800},
{"t":12800,"x":-20,"y":13000},{"t":12800,"x":-17.3,"y":13000},{"t":12800,"x":-16.5,"y":13070},{"t":12800,"x":-16.0,"y":13210},{"t":12800,"x":-15.7,"y":13500},{"t":12800,"x":-15.4,"y":13310},{"t":12800,"x":-7.9,"y":13280},{"t":12800,"x":0,"y":13295},{"t":12800,"x":7.9,"y":13300},{"t":12800,"x":15.4,"y":13310},{"t":12800,"x":15.7,"y":13500},{"t":12800,"x":16.0,"y":13210},{"t":12800,"x":16.5,"y":13070},{"t":12800,"x":17.3,"y":13000},{"t":12800,"x":20,"y":13000},
{"t":13000,"x":-20,"y":13200},{"t":13000,"x":-17.6,"y":13200},{"t":13000,"x":-16.8,"y":13270},{"t":13000,"x":-16.3,"y":13410},{"t":13000,"x":-16.0,"y":13700},{"t":13000,"x":-15.7,"y":13510},{"t":13000,"x":-8.0,"y":13500},{"t":13000,"x":0,"y":13480},{"t":13000,"x":8.0,"y":13495},{"t":13000,"x":15.7,"y":13510},{"t":13000,"x":16.0,"y":13700},{"t":13000,"x":16.3,"y":13410},{"t":13000,"x":16.8,"y":13270},{"t":13000,"x":17.6,"y":13200},{"t":13000,"x":20,"y":13200},
{"t":13200,"x":-20,"y":13400},{"t":13200,"x":-17.8,"y":13400},{"t":13200,"x":-17.0,"y":13470},{"t":13200,"x":-16.5,"y":13610},{"t":13200,"x":-16.2,"y":13900},{"t":13200,"x":-15.9,"y":13710},{"t":13200,"x":-8.1,"y":13685},{"t":13200,"x":0,"y":13700},{"t":13200,"x":8.1,"y":13710},{"t":13200,"x":15.9,"y":13710},{"t":13200,"x":16.2,"y":13900},{"t":13200,"x":16.5,"y":13610},{"t":13200,"x":17.0,"y":13470},{"t":13200,"x":17.8,"y":13400},{"t":13200,"x":20,"y":13400},
{"t":13400,"x":-20,"y":13600},{"t":13400,"x":-18.1,"y":13600},{"t":13400,"x":-17.3,"y":13670},{"t":13400,"x":-16.8,"y":13810},{"t":13400,"x":-16.5,"y":14100},{"t":13400,"x":-16.2,"y":13910},{"t":13400,"x":-8.3,"y":13910},{"t":13400,"x":0,"y":13890},{"t":13400,"x":8.3,"y":13880},{"t":13400,"x":16.2,"y":13910},{"t":13400,"x":16.5,"y":14100},{"t":13400,"x":16.8,"y":13810},{"t":13400,"x":17.3,"y":13670},{"t":13400,"x":18.1,"y":13600},{"t":13400,"x":20,"y":13600},
{"t":13600,"x":-20,"y":13800},{"t":13600,"x":-18.3,"y":13800},{"t":13600,"x":-17.5,"y":13870},{"t":13600,"x":-17.0,"y":14010},{"t":13600,"x":-16.7,"y":14300},{"t":13600,"x":-16.4,"y":14110},{"t":13600,"x":-8.4,"y":14095},{"t":13600,"x":0,"y":14105},{"t":13600,"x":8.4,"y":14090},{"t":13600,"x":16.4,"y":14110},{"t":13600,"x":16.7,"y":14300},{"t":13600,"x":17.0,"y":14010},{"t":13600,"x":17.5,"y":13870},{"t":13600,"x":18.3,"y":13800},{"t":13600,"x":20,"y":13800},
{"t":13800,"x":-20,"y":14000},{"t":13800,"x":-18.5,"y":14000},{"t":13800,"x":-17.7,"y":14070},{"t":13800,"x":-17.2,"y":14210},{"t":13800,"x":-16.9,"y":14500},{"t":13800,"x":-16.6,"y":14310},{"t":13800,"x":-8.5,"y":14280},{"t":13800,"x":0,"y":14295},{"t":13800,"x":8.5,"y":14300},{"t":13800,"x":16.6,"y":14310},{"t":13800,"x":16.9,"y":14500},{"t":13800,"x":17.2,"y":14210},{"t":13800,"x":17.7,"y":14070},{"t":13800,"x":18.5,"y":14000},{"t":13800,"x":20,"y":14000},
{"t":14000,"x":-20,"y":14200},{"t":14000,"x":-18.8,"y":14200},{"t":14000,"x":-18.0,"y":14270},{"t":14000,"x":-17.5,"y":14410},{"t":14000,"x":-17.2,"y":14700},{"t":14000,"x":-16.9,"y":14510},{"t":14000,"x":-8.6,"y":14500},{"t":14000,"x":0,"y":14480},{"t":14000,"x":8.6,"y":14495},{"t":14000,"x":16.9,"y":14510},{"t":14000,"x":17.2,"y":14700},{"t":14000,"x":17.5,"y":14410},{"t":14000,"x":18.0,"y":14270},{"t":14000,"x":18.8,"y":14200},{"t":14000,"x":20,"y":14200},
{"t":14200,"x":-20,"y":14400},{"t":14200,"x":-19.0,"y":14400},{"t":14200,"x":-18.2,"y":14470},{"t":14200,"x":-17.7,"y":14610},{"t":14200,"x":-17.4,"y":14900},{"t":14200,"x":-17.1,"y":14710},{"t":14200,"x":-8.7,"y":14685},{"t":14200,"x":0,"y":14700},{"t":14200,"x":8.7,"y":14710},{"t":14200,"x":17.1,"y":14710},{"t":14200,"x":17.4,"y":14900},{"t":14200,"x":17.7,"y":14610},{"t":14200,"x":18.2,"y":14470},{"t":14200,"x":19.0,"y":14400},{"t":14200,"x":20,"y":14400},
{"t":14400,"x":-20,"y":14600},{"t":14400,"x":-19.3,"y":14600},{"t":14400,"x":-18.5,"y":14670},{"t":14400,"x":-18.0,"y":14810},{"t":14400,"x":-17.7,"y":15100},{"t":14400,"x":-17.4,"y":14910},{"t":14400,"x":-8.9,"y":14910},{"t":14400,"x":0,"y":14890},{"t":14400,"x":8.9,"y":14880},{"t":14400,"x":17.4,"y":14910},{"t":14400,"x":17.7,"y":15100},{"t":14400,"x":18.0,"y":14810},{"t":14400,"x":18.5,"y":14670},{"t":14400,"x":19.3,"y":14600},{"t":14400,"x":20,"y":14600},
{"t":14600,"x":-20,"y":14800},{"t":14600,"x":-19.5,"y":14800},{"t":14600,"x":-18.7,"y":14870},{"t":14600,"x":-18.2,"y":15010},{"t":14600,"x":-17.9,"y":15300},{"t":14600,"x":-17.6,"y":15110},{"t":14600,"x":-9.0,"y":15095},{"t":14600,"x":0,"y":15105},{"t":14600,"x":9.0,"y":15090},{"t":14600,"x":17.6,"y":15110},{"t":14600,"x":17.9,"y":15300},{"t":14600,"x":18.2,"y":15010},{"t":14600,"x":18.7,"y":14870},{"t":14600,"x":19.5,"y":14800},{"t":14600,"x":20,"y":14800},
{"t":14800,"x":-20,"y":15000},{"t":14800,"x":-19.8,"y":15000},{"t":14800,"x":-19.0,"y":15070},{"t":14800,"x":-18.5,"y":15210},{"t":14800,"x":-18.2,"y":15500},{"t":14800,"x":-17.9,"y":15310},{"t":14800,"x":-9.1,"y":15280},{"t":14800,"x":0,"y":15295},{"t":14800,"x":9.1,"y":15300},{"t":14800,"x":17.9,"y":15310},{"t":14800,"x":18.2,"y":15500},{"t":14800,"x":18.5,"y":15210},{"t":14800,"x":19.0,"y":15070},{"t":14800,"x":19.8,"y":15000},{"t":14800,"x":20,"y":15000}
]},
"layer":[
{"data":{"name":"traces"},
 "mark":{"type":"line","color":"#0000ff","strokeWidth":1,"clip":true},
 "encoding":{
  "x":{"field":"x","type":"quantitative","scale":{"domain":[-20,20],"nice":false,"zero":false},
       "axis":{"orient":"bottom","values":[-20,-15,-10,-5,0,5,10,15,20],"tickSize":-5,"labelFontSize":17,"labelPadding":10,"title":"x","titleFontSize":26,"titlePadding":5}},
  "y":{"field":"y","type":"quantitative","scale":{"domain":[0,15000],"nice":false,"zero":false},
       "axis":{"orient":"left","values":[0,5000,10000,15000],"format":"d","tickSize":-5,"labelFontSize":17,"labelPadding":11,"title":"Time Steps","titleFontSize":27,"titlePadding":8}},
  "detail":{"field":"t","type":"nominal"}}},
{"data":{"name":"letters"},
 "mark":{"type":"text","fontSize":27,"align":"center","baseline":"alphabetic","color":"black"},
 "encoding":{
  "x":{"field":"x","type":"quantitative","axis":{"orient":"top","values":[-20,-15,-10,-5,0,5,10,15,20],"tickSize":-5,"labels":false,"title":null}},
  "y":{"field":"y","type":"quantitative","axis":{"orient":"right","values":[0,5000,10000,15000],"tickSize":-5,"labels":false,"title":null}},
  "text":{"field":"lab"}}},
{"data":{"name":"subs"},
 "mark":{"type":"text","fontSize":19,"align":"center","baseline":"alphabetic","color":"black"},
 "encoding":{
  "x":{"field":"x","type":"quantitative","axis":null},
  "y":{"field":"y","type":"quantitative","axis":null},
  "text":{"field":"lab"}}}
],
"resolve":{"axis":{"x":"independent","y":"independent"}}
}
